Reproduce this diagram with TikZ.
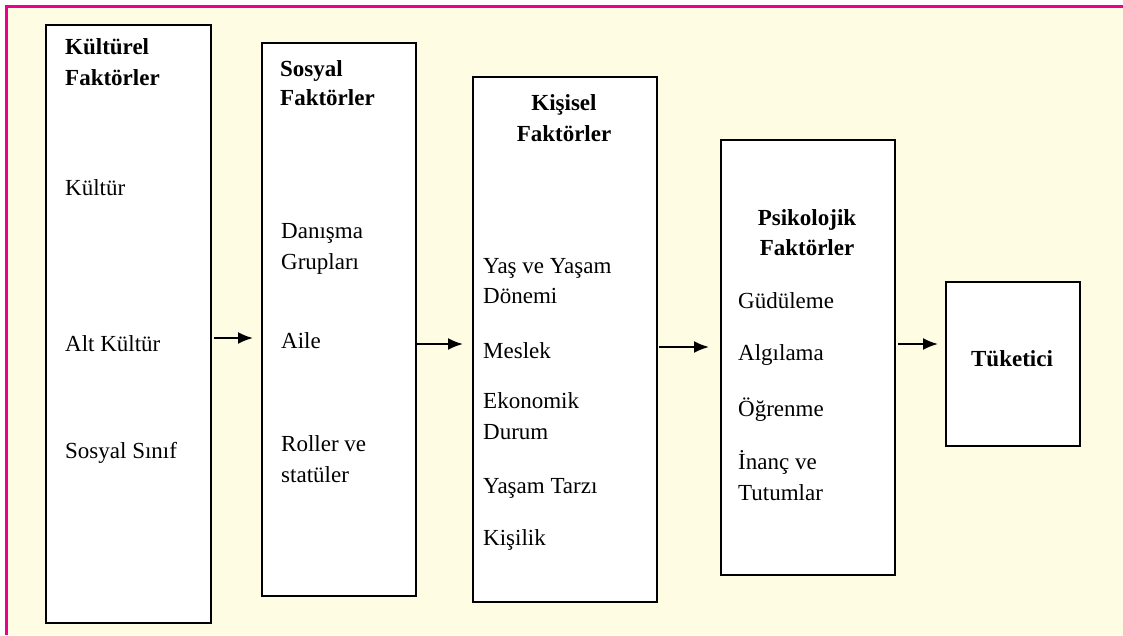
\documentclass[tikz,border=0pt]{standalone}
\usepackage{fontspec}
\setmainfont{Liberation Serif}
\usetikzlibrary{arrows.meta}
\definecolor{bgyellow}{RGB}{255,252,228}
\definecolor{frame}{RGB}{238,0,140}
\begin{document}
\begin{tikzpicture}[x=1pt,y=-1pt,
  box/.style={draw=black, line width=1.8pt, fill=white, anchor=north west, inner sep=0pt},
  txt/.style={anchor=base west, inner sep=0pt, font=\fontsize{23}{28}\selectfont},
  hd/.style={txt, font=\fontsize{23}{28}\selectfont\bfseries},
  hdc/.style={anchor=base, inner sep=0pt, font=\fontsize{23}{28}\selectfont\bfseries},
  arr/.style={line width=2pt, -{Latex[length=15pt,width=12pt]}}]
\useasboundingbox (0,0) rectangle (1123,635);
\fill[white] (0,0) rectangle (1123,635);
\fill[bgyellow] (6.5,6) rectangle (1123,635);
\draw[frame, line width=3pt] (6.5,635) -- (6.5,6) -- (1123,6);
% boxes
\node[box, minimum width=165pt, minimum height=598pt] (b1) at (45,24) {};
\node[box, minimum width=154pt, minimum height=553pt] (b2) at (261,42) {};
\node[box, minimum width=184pt, minimum height=525pt] (b3) at (472,76) {};
\node[box, minimum width=174pt, minimum height=435pt] (b4) at (720,139) {};
\node[box, minimum width=134pt, minimum height=164pt] (b5) at (945,281) {};
% box 1 texts
\node[hd] (t11) at (65,54) {Kültürel};
\node[hd] (t12) at (65,85) {Faktörler};
\node[txt] (t13) at (65,195) {Kültür};
\node[txt] (t14) at (65,351) {Alt Kültür};
\node[txt] (t15) at (65,458) {Sosyal Sınıf};
% box 2 texts
\node[hd] (t21) at (280,76) {Sosyal};
\node[hd] (t22) at (280,105) {Faktörler};
\node[txt] (t23) at (281,238) {Danışma};
\node[txt] (t24) at (281,269) {Grupları};
\node[txt] (t25) at (281,348) {Aile};
\node[txt] (t26) at (281,451) {Roller ve};
\node[txt] (t27) at (281,482) {statüler};
% box 3 texts
\node[hdc] (t31) at (564,110) {Kişisel};
\node[hdc] (t32) at (564,141) {Faktörler};
\node[txt] (t33) at (483,273) {Yaş ve Yaşam};
\node[txt] (t34) at (483,303) {Dönemi};
\node[txt] (t35) at (483,358) {Meslek};
\node[txt] (t36) at (483,408) {Ekonomik};
\node[txt] (t37) at (483,439) {Durum};
\node[txt] (t38) at (483,493) {Yaşam Tarzı};
\node[txt] (t39) at (483,545) {Kişilik};
% box 4 texts
\node[hdc] (t41) at (807,225) {Psikolojik};
\node[hdc] (t42) at (807,255) {Faktörler};
\node[txt] (t43) at (738,308) {Güdüleme};
\node[txt] (t44) at (738,360) {Algılama};
\node[txt] (t45) at (738,416) {Öğrenme};
\node[txt] (t46) at (738,469) {İnanç ve};
\node[txt] (t47) at (738,500) {Tutumlar};
% box 5 text
\node[hdc] (t51) at (1012,366) {Tüketici};
% arrows
\coordinate (a1s) at (214,338); \coordinate (a1e) at (253,338);
\coordinate (a2s) at (415,344); \coordinate (a2e) at (463,344);
\coordinate (a3s) at (659,347); \coordinate (a3e) at (709,347);
\coordinate (a4s) at (898,344); \coordinate (a4e) at (938,344);
\draw[arr] (a1s) -- (a1e);
\draw[arr] (a2s) -- (a2e);
\draw[arr] (a3s) -- (a3e);
\draw[arr] (a4s) -- (a4e);
\end{tikzpicture}
\end{document}
